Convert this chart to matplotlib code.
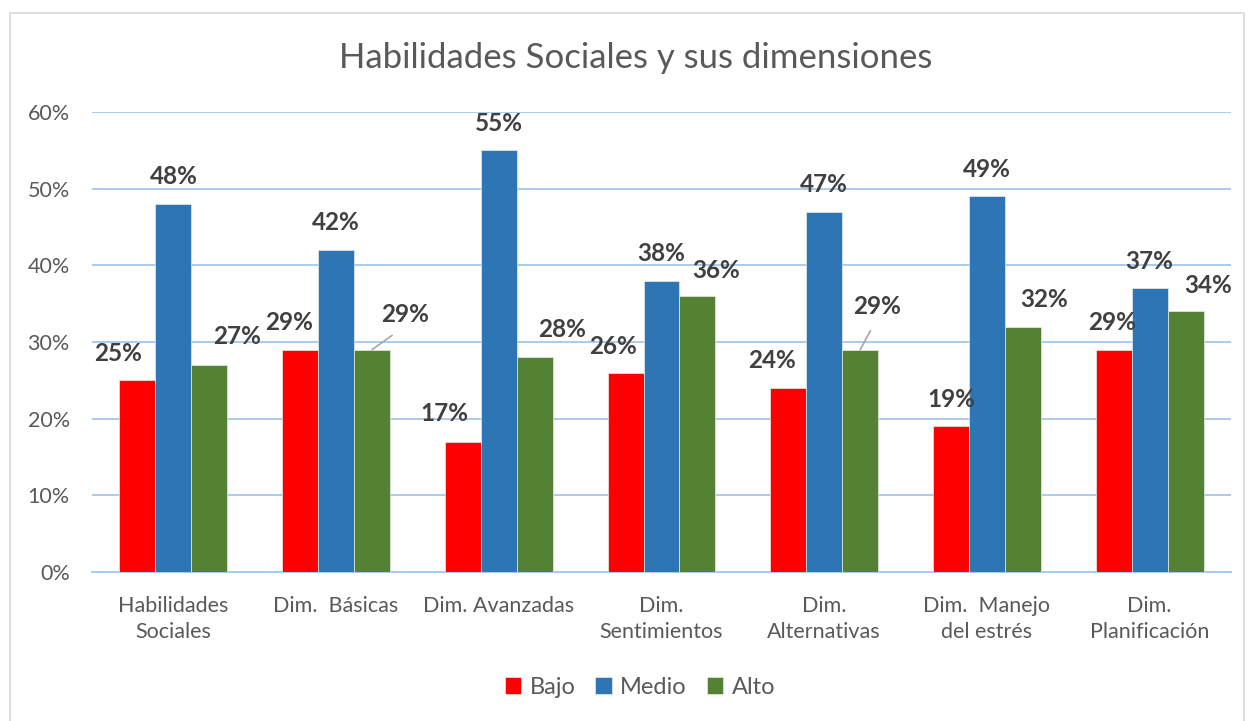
import matplotlib
matplotlib.use("Agg")
import matplotlib.pyplot as plt
from matplotlib.patches import Rectangle
from matplotlib.ticker import PercentFormatter, MultipleLocator
import numpy as np

plt.rcParams['font.family'] = ['Lato', 'DejaVu Sans']

# ---- data ----
categories = ["Habilidades\nSociales", "Dim.  Básicas", "Dim. Avanzadas",
              "Dim.\nSentimientos", "Dim.\nAlternativas", "Dim.  Manejo\ndel estrés",
              "Dim.\nPlanificación"]
series_names = ["Bajo", "Medio", "Alto"]
bajo = [0.25, 0.29, 0.17, 0.26, 0.24, 0.19, 0.29]
medio = [0.48, 0.42, 0.55, 0.38, 0.47, 0.49, 0.37]
alto = [0.27, 0.29, 0.28, 0.36, 0.29, 0.32, 0.34]
title = "Habilidades Sociales y sus dimensiones"

# ---- styles ----
colors = ["#FF0000", "#2E75B6", "#548235"]
# label offsets in pixels (dx, dy) relative to bar-top centre
label_offsets = [
    [(-19, 27), (-11, 27), (-18, 28), (-13, 26), (-16, 28), (0, 27), (-2, 27)],
    [(0, 27)] * 7,
    [(28, 29), (33, 35), (27, 28), (19, 26), (17, 43), (21, 27), (22, 26)],
]
leaders = {(2, 1), (2, 4)}

W, H, DPI = 1248, 721, 100
fig = plt.figure(figsize=(W / DPI, H / DPI), dpi=DPI)
ax = fig.add_axes([92 / W, 1 - 572 / H, (1231 - 92) / W, (572 - 112) / H])

# chart border
fig.patches.append(Rectangle((10 / W, -0.01), (1244 - 10) / W, (H - 13) / H + 0.01,
                             transform=fig.transFigure, fill=False,
                             edgecolor="#D9D9D9", linewidth=1.2))

x = np.arange(len(categories))
bw = 0.221
data = [bajo, medio, alto]
px2pt = 72 / DPI
for i, (vals, name) in enumerate(zip(data, series_names)):
    bars = ax.bar(x + (i - 1) * bw, vals, width=bw, color=colors[i], label=name,
                  edgecolor="#E8EEE6", linewidth=0.5, zorder=3)
    for j, (b, v) in enumerate(zip(bars, vals)):
        dx, dy = label_offsets[i][j]
        xc = b.get_x() + b.get_width() / 2
        kw = {}
        if (i, j) in leaders:
            kw['arrowprops'] = dict(arrowstyle='-', color="#A6A6A6", lw=1.2,
                                    relpos=(0.5, 0.0), shrinkA=8, shrinkB=0)
        ax.annotate(f"{v*100:.0f}%", xy=(xc, v), xytext=(dx * px2pt, dy * px2pt),
                    textcoords='offset points', ha='center', va='center',
                    fontsize=17.5, fontweight='bold', color="#404040", zorder=5, **kw)

ax.set_xlim(-0.5, len(categories) - 0.5)
ax.set_ylim(0, 0.6)
ax.yaxis.set_major_locator(MultipleLocator(0.1))
ax.yaxis.set_major_formatter(PercentFormatter(1.0, decimals=0))
ax.grid(axis='y', color="#A9CBEC", linewidth=1.4, zorder=0)
ax.set_axisbelow(True)
for s in ['top', 'right', 'left']:
    ax.spines[s].set_visible(False)
ax.spines['bottom'].set_color("#A9CBEC")
ax.spines['bottom'].set_linewidth(1.4)
ax.tick_params(axis='both', length=0, colors="#595959", labelsize=15.5)
ax.tick_params(axis='y', pad=16)
ax.tick_params(axis='x', pad=17)
ax.set_xticks(x)
ax.set_xticklabels(categories, linespacing=1.4)

fig.text(636 / W, 1 - 58 / H, title, ha='center', va='center', fontsize=25,
         color="#595959")

leg = fig.legend(loc='center', bbox_to_anchor=(640 / W, 1 - 687 / H), ncol=3,
                 frameon=False, fontsize=17, handlelength=0.7, handleheight=0.7,
                 handletextpad=0.35, columnspacing=0.85, labelcolor="#595959")

fig.savefig("out.png", dpi=DPI)
